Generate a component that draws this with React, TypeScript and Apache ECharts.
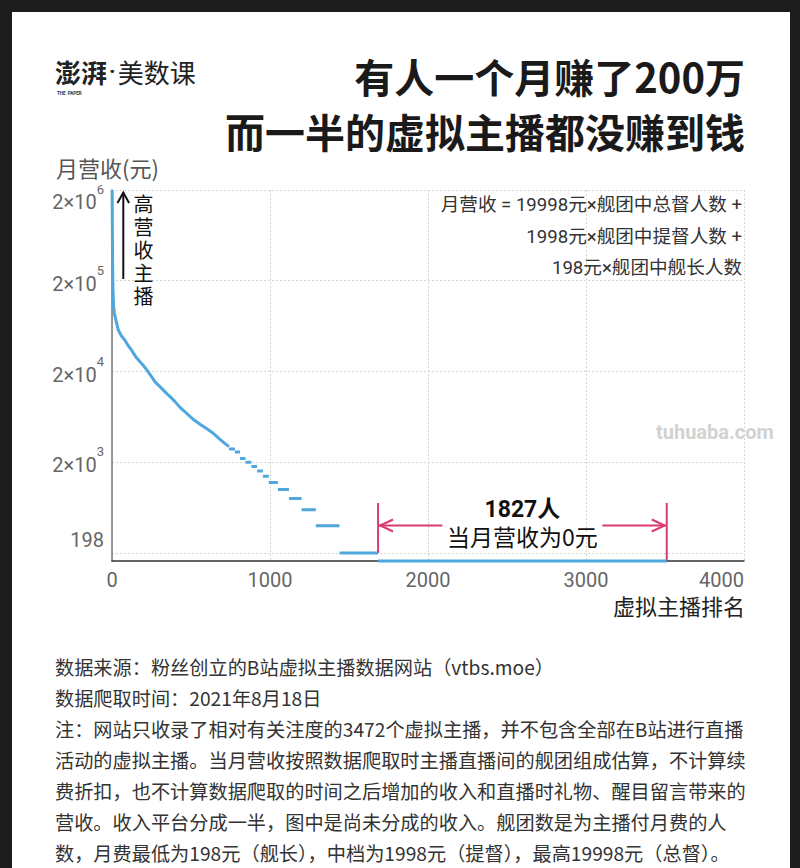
import React, { useEffect, useRef } from 'react';
import * as echarts from 'echarts';

// ---- data ----
const curveRank = [1, 2, 3, 4, 5, 7, 10, 15, 25, 40, 60, 82, 100, 125, 150, 177, 200, 220, 250, 272, 300, 325, 350, 378, 400, 430, 460, 483, 520, 557, 600, 641, 680, 710, 740];
const curveValue = [2000000, 900000, 500000, 300000, 200000, 140000, 105000, 88000, 73000, 57000, 49000, 44000, 39000, 34000, 29000, 25500, 23000, 20700, 17500, 15300, 13700, 12400, 11200, 10100, 9200, 8000, 7200, 6600, 5800, 5200, 4650, 4140, 3600, 3250, 2950];

const stepStart = [740, 778, 810, 845, 882, 918, 955, 992, 1050, 1120, 1200, 1290, 1440];
const stepEnd = [778, 810, 845, 882, 918, 955, 992, 1050, 1120, 1200, 1290, 1440, 1684];
const stepValue = [2772, 2574, 2178, 1980, 1782, 1584, 1386, 1188, 990, 792, 594, 396, 198];

const zeroStart = 1684;
const zeroEnd = 3511;
const zeroCount = 1827;

const yTickValues = [198, 2000, 20000, 200000, 2000000];
const yTickBase = ['198', '2×10', '2×10', '2×10', '2×10'];
const yTickExp = ['', '3', '4', '5', '6'];
const xTickValues = [0, 1000, 2000, 3000, 4000];

const Y_FLOOR = 161.5;
const Y_TOP = 2000000;

const titleLines = ['有人一个月赚了200万', '而一半的虚拟主播都没赚到钱'];
const formulaLines = ['月营收 = 19998元×舰团中总督人数 +', '1998元×舰团中提督人数 +', '198元×舰团中舰长人数'];
const highLabel = ['高', '营', '收', '主', '播'];
const footLines = [
  '数据来源：粉丝创立的B站虚拟主播数据网站（vtbs.moe）',
  '数据爬取时间：2021年8月18日',
  '注：网站只收录了相对有关注度的3472个虚拟主播，并不包含全部在B站进行直播',
  '活动的虚拟主播。当月营收按照数据爬取时主播直播间的舰团组成估算，不计算续',
  '费折扣，也不计算数据爬取的时间之后增加的收入和直播时礼物、醒目留言带来的',
  '营收。收入平台分成一半，图中是尚未分成的收入。舰团数是为主播付月费的人',
  '数，月费最低为198元（舰长），中档为1998元（提督），最高19998元（总督）。',
];

const BLUE = '#4ea7dd';
const PINK = '#d93a73';
const CJK = "'Noto Sans CJK SC', 'Noto Sans', sans-serif";
const NUM = "Roboto, 'Noto Sans CJK SC', sans-serif";

const L = (v: number) => Math.log10(v === 0 ? Y_FLOOR : v);

export default function App() {
  const ref = useRef<HTMLDivElement>(null);
  useEffect(() => {
    const el = ref.current!;
    const chart = echarts.init(el, null, { renderer: 'svg' });

    const curveData = curveRank.map((r, i) => [r, L(curveValue[i])]);
    const stepData: any[] = [];
    stepStart.forEach((s, i) => {
      stepData.push([s, L(stepValue[i])]);
      stepData.push([stepEnd[i], L(stepValue[i])]);
      stepData.push([stepEnd[i], '-']);
    });
    const zeroData = [[zeroStart, L(0)], [zeroEnd, L(0)]];

    const yLabelFormatter = (v: number) => {
      let idx = 0;
      let best = Infinity;
      yTickValues.forEach((t, i) => {
        const d = Math.abs(Math.log10(t) - v);
        if (d < best) { best = d; idx = i; }
      });
      if (!yTickExp[idx]) return `{a|${yTickBase[idx]}}`;
      if (yTickValues[idx] === Y_TOP) return `{n6|${yTickBase[idx]}}{s6|${yTickExp[idx]}}`;
      return `{n|${yTickBase[idx]}}{s|${yTickExp[idx]}}`;
    };

    const lab = { fontFamily: NUM, color: '#666' };
    const option: any = {
      animation: false,
      grid: { left: 112, right: 56, top: 190, bottom: 307, containLabel: false },
      xAxis: {
        type: 'value',
        min: 0,
        max: 4000,
        interval: 1000,
        axisLine: { show: true, onZero: false, lineStyle: { color: '#333', width: 1.5 } },
        axisTick: { show: false },
        axisLabel: {
          margin: 9,
          formatter: (v: number) => (v === xTickValues[xTickValues.length - 1] ? `{r|${v}}` : `{d|${v}}`),
          rich: {
            d: { ...lab, fontSize: 20 },
            r: { ...lab, fontSize: 20, padding: [0, 45, 0, 0] },
          },
        },
        splitLine: { show: true, lineStyle: { color: '#d4d4d4', type: [2, 2], width: 1 } },
      },
      yAxis: {
        type: 'value',
        min: Math.log10(Y_FLOOR),
        max: Math.log10(Y_TOP),
        axisLine: { show: true, onZero: false, lineStyle: { color: '#777', width: 1.5 } },
        axisTick: { show: false, customValues: yTickValues.map((v) => Math.log10(v)) },
        axisLabel: {
          margin: 8,
          customValues: yTickValues.map((v) => Math.log10(v)),
          formatter: yLabelFormatter,
          rich: {
            a: { ...lab, fontSize: 20, padding: [0, 0, 26, 0] },
            n: { ...lab, fontSize: 20, verticalAlign: 'bottom', padding: [10, 0, 3, 0] },
            s: { ...lab, fontSize: 13, verticalAlign: 'top' },
            n6: { ...lab, fontSize: 20, verticalAlign: 'bottom', padding: [23, 0, 0, 0] },
            s6: { ...lab, fontSize: 13, verticalAlign: 'top', padding: [14.5, 0, 0, 0] },
          },
        },
        splitLine: { show: true, lineStyle: { color: '#d4d4d4', type: [2, 2], width: 1 } },
      },
      series: [
        {
          type: 'line', data: curveData, symbol: 'none', clip: false, silent: true,
          lineStyle: { color: BLUE, width: 3 }, itemStyle: { color: BLUE },
        },
        {
          type: 'line', data: stepData, symbol: 'none', clip: false, silent: true, connectNulls: false,
          lineStyle: { color: BLUE, width: 3 }, itemStyle: { color: BLUE },
        },
        {
          type: 'line', data: zeroData, symbol: 'none', clip: false, silent: true,
          lineStyle: { color: BLUE, width: 3 }, itemStyle: { color: BLUE },
        },
      ],
    };
    chart.setOption(option);

    const p = (x: number, v: number) => chart.convertToPixel({ gridIndex: 0 }, [x, L(v)]) as number[];
    const [xl, yl] = p(zeroStart, 198);
    const [xr, yr] = p(zeroEnd, 0);
    const midX = (xl + xr) / 2;
    const arrowY = 525.5;
    const topY = 503;

    const elements: any[] = [];
    // logo
    elements.push({
      type: 'text', x: 55, y: 71,
      style: {
        text: '{a|澎湃}{d|·}{b|美数课}',
        textVerticalAlign: 'middle',
        rich: {
          a: { fontFamily: CJK, fontSize: 26, fontWeight: 'bold', fill: '#222', color: '#222' },
          d: { fontFamily: NUM, fontSize: 22, fontWeight: 'bold', fill: '#222', color: '#222', padding: [0, 2, 0, 2] },
          b: { fontFamily: CJK, fontSize: 26, fill: '#222', color: '#222' },
        },
      },
    });
    elements.push({ type: 'text', x: 57, y: 93, style: { text: 'THE  PAPER', fontFamily: NUM, fontSize: 4.5, fontWeight: 'bold', fill: '#333', textVerticalAlign: 'middle' } });
    // title
    titleLines.forEach((t, i) => {
      elements.push({ type: 'text', x: 745, y: 76 + i * 55, style: { text: t, fontFamily: CJK, fontSize: 40, fontWeight: 'bold', fill: '#1a1a1a', textAlign: 'right', textVerticalAlign: 'middle' } });
    });
    // axis names
    elements.push({ type: 'text', x: 56, y: 167, style: { text: '月营收(元)', fontFamily: CJK, fontSize: 22, fill: '#555', textVerticalAlign: 'middle' } });
    elements.push({ type: 'text', x: 745, y: 605, style: { text: '虚拟主播排名', fontFamily: CJK, fontSize: 22, fill: '#222', textAlign: 'right', textVerticalAlign: 'middle' } });
    // formula
    formulaLines.forEach((t, i) => {
      elements.push({ type: 'text', x: 742, y: 205 + i * 31.5, style: { text: t, fontFamily: NUM, fontSize: 18.6, fill: '#333', textAlign: 'right', textVerticalAlign: 'middle' } });
    });
    // high revenue arrow + vertical text
    elements.push({ type: 'line', shape: { x1: 123.3, y1: 279, x2: 123.3, y2: 193 }, style: { stroke: '#111', lineWidth: 2 } });
    elements.push({ type: 'polyline', shape: { points: [[117.5, 203], [123.3, 192.5], [129.1, 203]] }, style: { stroke: '#111', lineWidth: 2, fill: null } });
    highLabel.forEach((c, i) => {
      elements.push({ type: 'text', x: 143.5, y: 203 + i * 23, style: { text: c, fontFamily: CJK, fontSize: 20, fill: '#111', textAlign: 'center', textVerticalAlign: 'middle' } });
    });
    // zero annotation
    elements.push({ type: 'line', shape: { x1: xl, y1: topY, x2: xl, y2: yl }, style: { stroke: PINK, lineWidth: 2 } });
    elements.push({ type: 'line', shape: { x1: xr, y1: topY, x2: xr, y2: yr }, style: { stroke: PINK, lineWidth: 2 } });
    elements.push({ type: 'line', shape: { x1: xl + 1, y1: arrowY, x2: midX - 80, y2: arrowY }, style: { stroke: PINK, lineWidth: 2 } });
    elements.push({ type: 'line', shape: { x1: midX + 80, y1: arrowY, x2: xr - 1, y2: arrowY }, style: { stroke: PINK, lineWidth: 2 } });
    elements.push({ type: 'polyline', shape: { points: [[xl + 15, arrowY - 6], [xl + 2, arrowY], [xl + 15, arrowY + 6]] }, style: { stroke: PINK, lineWidth: 2, fill: null } });
    elements.push({ type: 'polyline', shape: { points: [[xr - 15, arrowY - 6], [xr - 2, arrowY], [xr - 15, arrowY + 6]] }, style: { stroke: PINK, lineWidth: 2, fill: null } });
    elements.push({ type: 'text', x: midX, y: 509, style: { text: `${zeroCount}人`, fontFamily: NUM, fontSize: 23, fontWeight: 'bold', fill: '#111', textAlign: 'center', textVerticalAlign: 'middle' } });
    elements.push({ type: 'text', x: midX, y: 535.5, style: { text: '当月营收为0元', fontFamily: CJK, fontSize: 23, fill: '#111', textAlign: 'center', textVerticalAlign: 'middle' } });
    // footnote
    footLines.forEach((t, i) => {
      elements.push({ type: 'text', x: 55, y: 667 + i * 31, style: { text: t, fontFamily: CJK, fontSize: 19.2, fill: '#333', textVerticalAlign: 'middle' } });
    });
    // watermark
    elements.push({ type: 'text', x: 656, y: 432, z: 100, style: { text: 'tuhuaba.com', fontFamily: NUM, fontSize: 20, fontWeight: 'bold', fill: '#d2d2d2', textVerticalAlign: 'middle' } });

    chart.setOption({ graphic: { elements } });
    return () => chart.dispose();
  }, []);

  return (
    <div style={{ position: 'absolute', left: 0, top: 0, width: 800, height: 868, background: '#1d1d1d' }}>
      <div style={{ position: 'absolute', left: 12, top: 12, width: 778, height: 856, background: '#fff' }} />
      <div ref={ref} style={{ position: 'absolute', left: 0, top: 0, width: 800, height: 868 }} />
    </div>
  );
}
